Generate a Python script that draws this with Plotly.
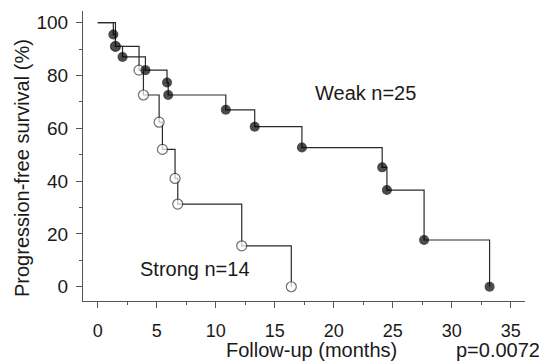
import plotly.graph_objects as go

# Weak staining group (filled circles) - event times (months) and survival (%)
weak_months = [0, 1.32, 1.5, 2.1, 4.04, 5.87, 5.97, 10.85, 13.3, 17.3, 24.1, 24.5, 27.65, 33.2]
weak_surv = [100, 95.5, 91, 87, 82, 77.3, 72.6, 67, 60.6, 52.7, 45.2, 36.6, 17.7, 0]

# Strong staining group (open circles)
strong_months = [0, 1.5, 3.5, 3.87, 5.2, 5.48, 6.55, 6.78, 12.2, 16.4]
strong_surv = [100, 91, 82, 72.6, 62.3, 52, 41, 31.3, 15.5, 0]

x_ticks = [0, 5, 10, 15, 20, 25, 30, 35]
y_ticks = [0, 20, 40, 60, 80, 100]

FONT = "Liberation Sans, Arial, sans-serif"
TXT = "#1a1a1a"
LINE = "#2a2a2a"

fig = go.Figure()

# marker on every point except the starting (0, 100)
strong_sizes = [0] + [10] * (len(strong_months) - 1)
weak_sizes = [0] + [10] * (len(weak_months) - 1)

fig.add_trace(go.Scatter(
    x=strong_months, y=strong_surv, mode="lines+markers",
    line=dict(shape="hv", color=LINE, width=1.2),
    marker=dict(symbol="circle", size=strong_sizes, color="white",
                line=dict(color="#333333", width=1.2)),
    showlegend=False, cliponaxis=False,
))
fig.add_trace(go.Scatter(
    x=weak_months, y=weak_surv, mode="lines+markers",
    line=dict(shape="hv", color=LINE, width=1.2),
    marker=dict(symbol="circle", size=weak_sizes, color="black",
                line=dict(color="black", width=0)),
    showlegend=False, cliponaxis=False,
))

# page body has an 8px margin, so the figure is drawn 8px smaller and offset
fig.update_layout(
    width=539, height=356,
    margin=dict(l=75, r=22, t=3, b=63),
    plot_bgcolor="white", paper_bgcolor="white",
    font=dict(family=FONT, size=19, color=TXT),
    xaxis=dict(
        range=[-1.25, 36.2], tickvals=x_ticks, ticktext=[str(v) for v in x_ticks],
        showgrid=False, zeroline=False, showline=True, linecolor="#555555", linewidth=1,
        ticks="outside", ticklen=6, tickcolor="#555555", tickwidth=1,
        minor=dict(dtick=2.5, tick0=0, ticks="outside", ticklen=3, tickcolor="#555555"),
        tickfont=dict(size=18, color=TXT), ticklabelstandoff=7,
    ),
    yaxis=dict(
        range=[-5.4, 104.4], tickvals=y_ticks, ticktext=[str(v) for v in y_ticks],
        showgrid=False, zeroline=False, showline=True, linecolor="#555555", linewidth=1,
        ticks="outside", ticklen=6, tickcolor="#555555", tickwidth=1,
        minor=dict(dtick=10, tick0=0, ticks="outside", ticklen=3, tickcolor="#555555"),
        tickfont=dict(size=19, color=TXT), ticklabelstandoff=4,
    ),
    annotations=[
        dict(text="Progression-free survival (%)", xref="paper", yref="paper",
             x=-0.138, y=0.4586, textangle=-90, showarrow=False,
             font=dict(size=20, color=TXT), xanchor="center", yanchor="middle"),
        dict(text="Follow-up (months)", xref="paper", yref="paper",
             x=0.516, y=-0.170, showarrow=False,
             font=dict(size=20, color=TXT), xanchor="center", yanchor="middle"),
        dict(text="p=0.0072", xref="paper", yref="paper",
             x=0.939, y=-0.170, showarrow=False,
             font=dict(size=20, color=TXT), xanchor="center", yanchor="middle"),
        dict(text="Weak n=25", xref="paper", yref="paper",
             x=0.640, y=0.717, showarrow=False,
             font=dict(size=20, color=TXT), xanchor="center", yanchor="middle"),
        dict(text="Strong n=14", xref="paper", yref="paper",
             x=0.254, y=0.110, showarrow=False,
             font=dict(size=20, color=TXT), xanchor="center", yanchor="middle"),
    ],
)

fig.write_html("out.html")
